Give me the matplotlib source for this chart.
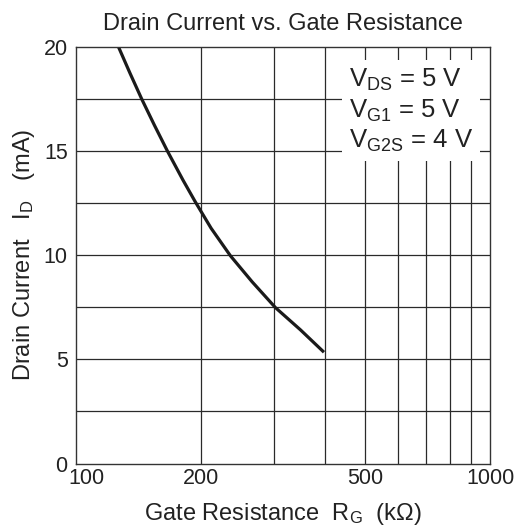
import matplotlib
matplotlib.use("Agg")
import matplotlib.pyplot as plt
from matplotlib.ticker import FixedLocator, NullFormatter
from matplotlib.transforms import ScaledTranslation

matplotlib.rc('font', family=['Liberation Sans', 'DejaVu Sans'])
matplotlib.rcParams['mathtext.fontset'] = 'custom'
matplotlib.rcParams['mathtext.rm'] = 'Liberation Sans'
matplotlib.rcParams['mathtext.it'] = 'Liberation Sans'
matplotlib.rcParams['mathtext.default'] = 'regular'

# curve
rg_kohm = [126.6, 135.1, 144.2, 154.7, 166.4, 181.3, 194.1, 212.0, 236.0, 266.3, 303.2, 348.6, 397.1]
id_ma = [20.0, 18.72, 17.48, 16.23, 14.98, 13.60, 12.56, 11.29, 9.97, 8.72, 7.48, 6.41, 5.34]

x_ticks = [100, 200, 500, 1000]
x_grid = [200, 300, 400, 500, 600, 700, 800, 900]
y_ticks = [0, 5, 10, 15, 20]
y_grid = [2.5, 5, 7.5, 10, 12.5, 15, 17.5]

conditions = ['V$_{DS}$ = 5 V', 'V$_{G1}$ = 5 V', 'V$_{G2S}$ = 4 V']

txt = '#222222'

fig = plt.figure(figsize=(5.18, 5.29), dpi=100)
ax = fig.add_axes([0.1467, 0.1238, 0.7993, 0.7879])

ax.set_xscale('log')
ax.set_xlim(100, 1000)
ax.set_ylim(0, 20)

for x in x_grid:
    ax.axvline(x, color='#2a2a2a', lw=0.9, zorder=1)
for y in y_grid:
    ax.axhline(y, color='#2a2a2a', lw=0.9, zorder=1)

ax.plot(rg_kohm, id_ma, color='#1a1a1a', lw=2.3, zorder=3,
        solid_capstyle='butt', solid_joinstyle='round')

ax.xaxis.set_major_locator(FixedLocator(x_ticks))
ax.xaxis.set_minor_locator(FixedLocator([]))
ax.set_xticklabels([str(v) for v in x_ticks])
ax.xaxis.set_minor_formatter(NullFormatter())
ax.set_yticks(y_ticks)
ax.set_yticklabels([str(v) for v in y_ticks])
ax.tick_params(length=0, labelsize=15.5, colors=txt)
ax.tick_params(axis='x', pad=3)
ax.tick_params(axis='y', pad=6)

# first x label sits right of the corner, clear of the "0"
lbl = ax.get_xticklabels()[0]
lbl.set_transform(lbl.get_transform() + ScaledTranslation(0.10, 0, fig.dpi_scale_trans))

for s in ax.spines.values():
    s.set_color('#333333')
    s.set_linewidth(1.0)
    s.set_zorder(4)

ax.set_title('Drain Current vs. Gate Resistance', fontsize=17, color=txt, pad=12)
ax.set_xlabel('Gate Resistance  R$_G$  (k\u03a9)', fontsize=17, color=txt, labelpad=9)
ax.set_ylabel('Drain Current   I$_D$   (mA)', fontsize=17, color=txt, labelpad=5)

ax.text(0.66, 0.952, '\n'.join(conditions), transform=ax.transAxes, ha='left', va='top',
        fontsize=18.5, color=txt, linespacing=1.22, zorder=2,
        bbox=dict(facecolor='white', edgecolor='none', pad=5))

fig.savefig('out.png', dpi=100)
